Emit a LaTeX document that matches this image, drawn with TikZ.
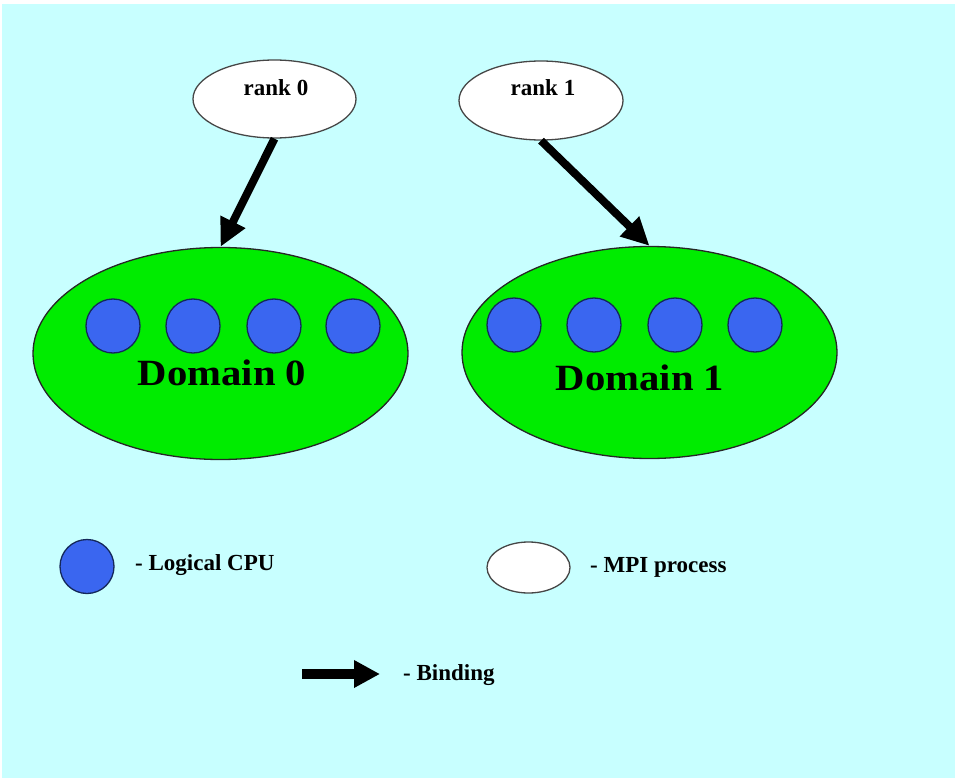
\documentclass[tikz,border=0pt]{standalone}
\usepackage{fontspec}
\usepackage{graphicx}
\setmainfont{Liberation Serif}
\usetikzlibrary{shapes.geometric,arrows.meta}
\definecolor{bgc}{RGB}{200,255,255}
\definecolor{domgreen}{RGB}{0,236,0}
\definecolor{cpublue}{RGB}{58,102,240}
\definecolor{cpuedge}{RGB}{20,40,90}
\definecolor{procedge}{RGB}{70,70,70}
\tikzset{
  proc/.style={ellipse,draw=procedge,line width=1.3pt,fill=white,inner sep=0pt},
  dom/.style={ellipse,draw=black!85,line width=1.3pt,fill=domgreen,inner sep=0pt,minimum width=375pt,minimum height=212pt},
  cpu/.style={circle,draw=cpuedge,line width=1.3pt,fill=cpublue,inner sep=0pt,minimum size=54pt},
  smalltxt/.style={font=\fontsize{23}{26}\selectfont\bfseries,inner sep=0pt},
  domtxt/.style={font=\fontsize{37}{40}\selectfont\bfseries,inner sep=0pt},
  bind/.style={line width=8pt,-{Triangle[length=28pt,width=26pt]}},
}
\begin{document}
\begin{tikzpicture}[x=1pt,y=-1pt]
\useasboundingbox (0,0) rectangle (955,778);
\fill[bgc] (-10,-10) rectangle (975,798);
\fill[white] (-10,-10) rectangle (975,4);
\fill[white] (-10,-10) rectangle (2,798);
% MPI processes
\node[proc,minimum width=163pt,minimum height=78pt] (r0) at (274.5,99) {};
\node[proc,minimum width=164pt,minimum height=79pt] (r1) at (541,100.5) {};
\node[smalltxt] (r0t) at (276,88) {rank 0};
\node[smalltxt] (r1t) at (543,88) {rank 1};
% domains
\node[dom] (d0) at (220.5,353.5) {};
\node[dom] (d1) at (649.5,352.5) {};
\foreach \i/\x in {1/113,2/193,3/274,4/353}{\node[cpu] (c0\i) at (\x,326) {};}
\foreach \i/\x in {1/514,2/594,3/675,4/755}{\node[cpu] (c1\i) at (\x,325) {};}
\node[domtxt] (d0t) at (222,373) {\scalebox{1.1}[1]{Domain 0}};
\node[domtxt] (d1t) at (640,378) {\scalebox{1.1}[1]{Domain 1}};
% bindings
\draw[bind] (r0.south) -- (d0.north);
\draw[bind] (r1.south) -- (d1.north);
% legend
\node[cpu] (lcpu) at (87,566.5) {};
\node[smalltxt,anchor=west] (lcput) at (135,565) {- Logical CPU};
\node[proc,minimum width=83pt,minimum height=51pt] (lmpi) at (528.5,567.5) {};
\node[smalltxt,anchor=west] (lmpit) at (590,567) {- MPI process};
\coordinate (ba) at (302,674);
\coordinate (bb) at (380,674);
\draw[line width=10pt,-{Triangle[length=26pt,width=26pt]}] (ba) -- (bb);
\node[smalltxt,anchor=west] (lbt) at (403,675) {- Binding};
\end{tikzpicture}
\end{document}
